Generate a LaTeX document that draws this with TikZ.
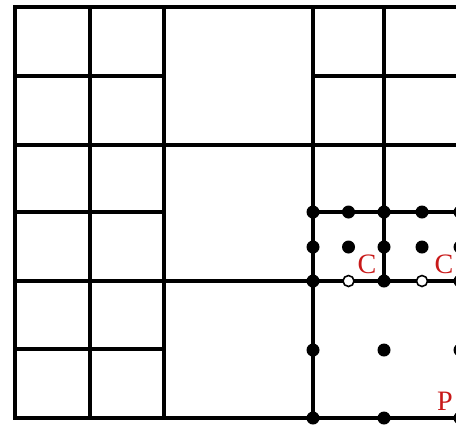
\documentclass[tikz,border=0pt]{standalone}
\usepackage{fontspec}
\setmainfont{Liberation Serif}
\usepackage{tikz}
\usetikzlibrary{arrows.meta}
\definecolor{lblred}{RGB}{200,25,25}
\tikzset{
  gridline/.style={line width=2.6pt, line cap=rect},
  fdot/.style={fill=black},
  odot/.style={draw=black, fill=white, line width=0.9pt},
  lbl/.style={text=lblred, inner sep=0pt, font=\fontsize{16}{16}\selectfont}
}

\begin{document}
\begin{tikzpicture}[x=0.02cm, y=-0.02cm]
\useasboundingbox (0,0) rectangle (456,424);
\clip (0,0) rectangle (456,424);
% mesh lines: left block fully refined, middle coarse, right part refined on top
\foreach \xa in {15,90,164,313}{
  \draw[gridline] (\xa,7) -- (\xa,418);
}
\draw[gridline] (384,7) -- (384,281);
\foreach \ya/\xs/\xe in {
  7/15/470,
  76/15/164,
  76/313/470,
  145/15/470,
  212/15/164,
  212/313/470,
  281/15/470,
  349/15/164,
  418/15/470
}{
  \draw[gridline] (\xs,\ya) -- (\xe,\ya);
}
% filled points
\foreach \ya in {212,247}{
  \foreach \xa in {313,348.5,384,422,460}{
    \fill[fdot] (\xa,\ya) circle (0.13cm);
  }
}
\foreach \ya in {281,350,418}{
  \foreach \xa in {313,384,460}{
    \fill[fdot] (\xa,\ya) circle (0.13cm);
  }
}
% open points on the coarse/fine interface
\foreach \xa in {348.5,422}{
  \draw[odot] (\xa,281) circle (0.11cm);
}
% labels
\node[lbl] (c1) at (367,264) {C};
\node[lbl] (c2) at (444,264) {C};
\node[lbl] (p) at (445,401) {P};
\end{tikzpicture}
\end{document}
